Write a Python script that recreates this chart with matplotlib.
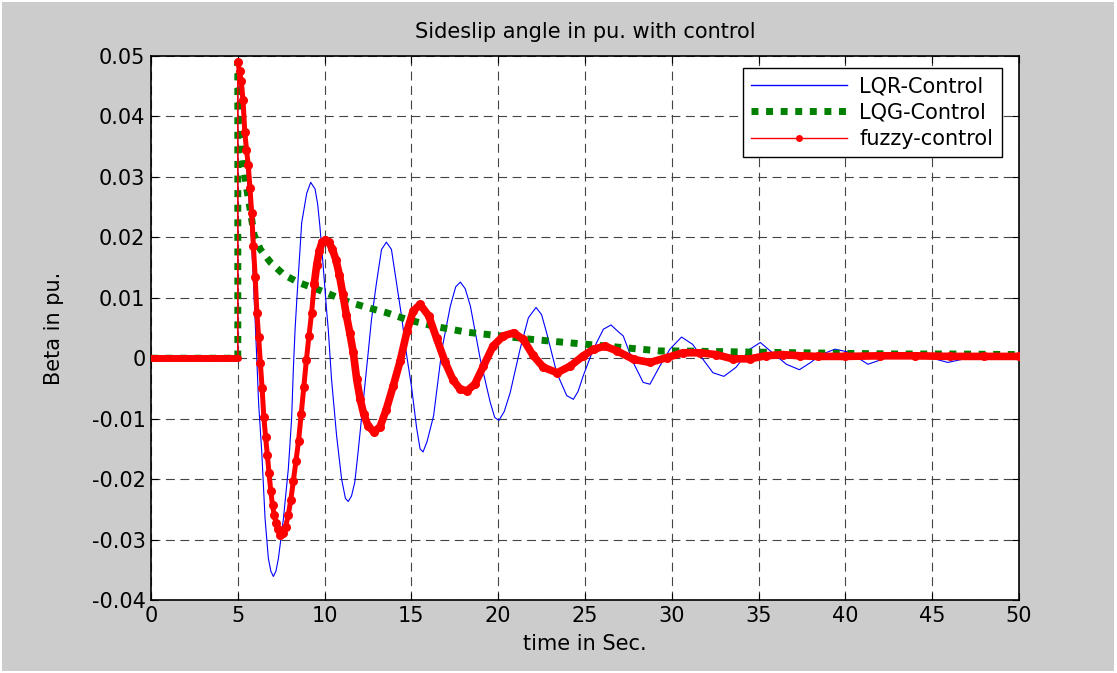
import matplotlib
matplotlib.use("Agg")
import matplotlib.pyplot as plt
from matplotlib.lines import Line2D
from matplotlib.patches import Rectangle

# ---------------- data ----------------
x_ticks = [0, 5, 10, 15, 20, 25, 30, 35, 40, 45, 50]
y_ticks = [0.05, 0.04, 0.03, 0.02, 0.01, 0.0, -0.01, -0.02, -0.03, -0.04]
y_tick_labels = ["0.05", "0.04", "0.03", "0.02", "0.01", "0", "-0.01", "-0.02", "-0.03", "-0.04"]

lqr_t = [0, 5.0, 5.0, 5.2, 5.4, 5.6, 5.8, 6.0, 6.1, 6.2, 6.38, 6.57, 6.76, 6.9, 7.05, 7.2, 7.34,
         7.63, 7.91, 8.1, 8.2, 8.3, 8.4, 8.68, 8.97, 9.2, 9.45, 9.6, 9.73, 9.92, 10.11, 10.21,
         10.4, 10.69, 10.98, 11.2, 11.36, 11.55, 11.74, 11.93, 12.22, 12.51, 12.7, 12.99, 13.28,
         13.56, 13.85, 14.14, 14.43, 14.7, 15.0, 15.3, 15.5, 15.67, 15.9, 16.28, 16.76, 17.24,
         17.55, 17.82, 18.1, 18.4, 18.97, 19.54, 19.8, 20.04, 20.35, 20.69, 21.26, 21.74, 22.18,
         22.5, 22.79, 23.37, 23.95, 24.33, 24.6, 24.9, 25.48, 26.06, 26.5, 26.99, 27.2, 27.78,
         28.35, 28.74, 29.31, 29.89, 30.56, 31.2, 31.8, 32.37, 33.0, 33.7, 34.5, 35.1, 35.8,
         36.6, 37.35, 38.0, 38.6, 39.4, 40.2, 41.3, 42.2, 43.5, 44.1, 45.0, 45.9, 46.7, 47.6,
         48.5, 50.0]
lqr_v = [0, 0, 0.048, 0.043, 0.036, 0.028, 0.019, 0.0062, -0.0005, -0.0075, -0.0155, -0.0265,
         -0.0331, -0.0352, -0.0361, -0.0352, -0.0331, -0.0265, -0.0183, -0.0100, -0.0018, 0.0048,
         0.0097, 0.0224, 0.0273, 0.0291, 0.0280, 0.0255, 0.0218, 0.0152, 0.0081, 0.0048, -0.0035,
         -0.0128, -0.0200, -0.0232, -0.0237, -0.0228, -0.0205, -0.0155, -0.0073, 0.0009, 0.0064,
         0.0125, 0.0180, 0.0192, 0.0180, 0.0125, 0.0070, 0.0010, -0.0046, -0.0115, -0.0150,
         -0.0155, -0.0138, -0.0095, 0.0015, 0.0086, 0.0118, 0.0126, 0.0115, 0.0086, -0.0002,
         -0.0073, -0.0098, -0.0103, -0.0088, -0.0057, 0.0015, 0.0067, 0.0084, 0.0072, 0.0042,
         -0.0024, -0.0062, -0.0068, -0.0055, -0.0029, 0.0015, 0.0048, 0.0055, 0.0042, 0.0037,
         -0.0007, -0.0040, -0.0043, -0.0013, 0.0015, 0.0035, 0.0023, -0.0002, -0.0024, -0.0030,
         -0.0015, 0.0015, 0.0026, 0.0009, -0.0010, -0.0019, -0.0007, 0.0006, 0.0015, 0.0010,
         -0.0010, -0.0001, 0.0009, 0.0009, 0.0000, -0.0007, -0.0002, 0.0004, 0.0005, 0.0003]

lqg_t = [0, 5.0, 5.0, 5.05, 5.15, 5.3, 5.46, 5.65, 5.94, 6.3, 6.9, 7.66, 8.52, 9.58, 10.53, 11.49,
         12.45, 13.6, 14.75, 16.3, 18.2, 20.1, 22.0, 23.9, 25.9, 27.0, 28.2, 29.3, 30.5, 32.6,
         34.9, 37.4, 40.0, 43.0, 46.0, 50.0]
lqg_v = [0, 0, 0.049, 0.047, 0.040, 0.033, 0.029, 0.0257, 0.0204, 0.0180, 0.0158, 0.0138, 0.0125,
         0.0114, 0.0103, 0.0092, 0.0084, 0.0075, 0.0064, 0.0053, 0.0043, 0.0037, 0.0031, 0.0026,
         0.0021, 0.0018, 0.0015, 0.0012, 0.0012, 0.0011, 0.0010, 0.0009, 0.0008, 0.0007, 0.0007,
         0.0006]

fuzzy_t = [0, 0.5, 1.0, 1.5, 2.0, 2.5, 3.0, 3.5, 4.0, 4.5, 5.0,
           5.0, 5.1, 5.2, 5.3, 5.4, 5.5, 5.6, 5.7, 5.8, 5.9, 6.0, 6.1, 6.2, 6.3, 6.4, 6.5, 6.6,
           6.7, 6.8, 6.9, 7.0, 7.1, 7.2, 7.3, 7.45, 7.6, 7.75, 7.9, 8.05, 8.2, 8.35, 8.5, 8.65,
           8.8, 8.95, 9.1, 9.25, 9.4, 9.55, 9.7, 9.85, 10.05, 10.25, 10.45, 10.65, 10.85, 11.05,
           11.25, 11.45, 11.65, 11.85, 12.05, 12.25, 12.5, 12.85, 13.2, 13.55, 13.95, 14.35,
           14.75, 15.1, 15.5, 16.0, 16.45, 16.95, 17.4, 17.8, 18.2, 18.65, 19.15, 19.7, 20.3,
           20.9, 21.45, 22.0, 22.6, 23.4, 24.15, 24.9, 25.5, 26.15, 26.85, 27.8, 28.75, 29.7,
           30.65, 31.6, 32.55, 33.5, 34.5, 35.4, 36.4, 37.4, 38.4, 40.0, 42.0, 44.0, 46.0, 48.0,
           50.0]
fuzzy_v = [0, 0, 0, 0, 0, 0, 0, 0, 0, 0, 0,
           0.0490, 0.0475, 0.0458, 0.0428, 0.0375, 0.0345, 0.0320, 0.0282, 0.0240, 0.0185,
           0.0135, 0.0075, 0.0035, -0.0008, -0.0050, -0.0097, -0.0130, -0.0160, -0.0190,
           -0.0220, -0.0243, -0.0260, -0.0272, -0.0283, -0.0293, -0.0289, -0.0280, -0.0260,
           -0.0235, -0.0203, -0.0170, -0.0137, -0.0093, -0.0048, -0.0003, 0.0037, 0.0075,
           0.0122, 0.0155, 0.0178, 0.0192, 0.0196, 0.0192, 0.0180, 0.0163, 0.0138, 0.0106,
           0.0072, 0.0042, 0.0010, -0.0035, -0.0068, -0.0092, -0.0112, -0.0122, -0.0113,
           -0.0085, -0.0046, -0.0005, 0.0045, 0.0078, 0.0089, 0.0070, 0.0033, -0.0007, -0.0036,
           -0.0051, -0.0054, -0.0043, -0.0013, 0.0020, 0.0037, 0.0042, 0.0031, 0.0005, -0.0015,
           -0.0024, -0.0013, 0.0004, 0.0015, 0.0020, 0.0012, -0.0002, -0.0007, 0.0001, 0.0009,
           0.0009, 0.0006, -0.0001, -0.0001, 0.0004, 0.0006, 0.0004, 0.0003, 0.0003, 0.0004,
           0.0004, 0.0003, 0.0003, 0.0003]

series_labels = ["LQR-Control", "LQG-Control", "fuzzy-control"]

# ---------------- figure ----------------
FS = 15
plt.rcParams['font.family'] = ['DejaVu Sans']
fig = plt.figure(figsize=(11.17, 6.73), dpi=100, facecolor="white")
fig.patches.append(Rectangle((2 / 1117, 2 / 673), 1112 / 1117, 669 / 673,
                             transform=fig.transFigure, facecolor="#cccccc",
                             edgecolor="none", zorder=-10))

ax = fig.add_axes([151 / 1117, 1 - 600 / 673, 868 / 1117, 544 / 673])
ax.set_facecolor("white")

ax.plot(lqr_t, lqr_v, color="#0000ff", lw=0.8, zorder=3)
ax.plot(lqg_t, lqg_v, color="#008000", lw=5.0, linestyle=(0, (1.0, 1.1)),
        solid_capstyle="butt", dash_capstyle="butt", zorder=4)

# fuzzy: thin line everywhere (incl. the vertical step) ...
ax.plot(fuzzy_t, fuzzy_v, color="#ff0000", lw=1.2, zorder=5)
# ... plus the densely sampled dots, which merge into a thick beaded band
flat_n = sum(1 for t, v in zip(fuzzy_t, fuzzy_v) if t <= 5.0 and v == 0)
ax.plot(fuzzy_t[:flat_n], fuzzy_v[:flat_n], color="#ff0000", lw=5.0,
        solid_capstyle="round", zorder=5)
early = [i for i in range(flat_n, len(fuzzy_t)) if fuzzy_t[i] < 9.6]
late = [i for i in range(flat_n, len(fuzzy_t)) if fuzzy_t[i] >= 9.4]
ax.plot([fuzzy_t[i] for i in early], [fuzzy_v[i] for i in early], color="#ff0000",
        lw=3.6, marker="o", markersize=6.5, markeredgewidth=0,
        solid_capstyle="round", solid_joinstyle="round", zorder=5)
ax.plot([fuzzy_t[i] for i in late], [fuzzy_v[i] for i in late], color="#ff0000",
        lw=5.5, marker="o", markersize=6.5, markeredgewidth=0,
        solid_capstyle="round", solid_joinstyle="round", zorder=5)

ax.set_xlim(0, 50)
ax.set_ylim(-0.04, 0.05)
ax.set_xticks(x_ticks)
ax.set_xticklabels([str(v) for v in x_ticks])
ax.set_yticks(y_ticks)
ax.set_yticklabels(y_tick_labels)
ax.tick_params(direction="in", length=5, width=0.8, top=True, right=True,
               labelsize=FS, pad=4, colors="black")
ax.grid(True, color="#444444", linestyle=(0, (8, 5)), linewidth=0.8)
for s in ax.spines.values():
    s.set_linewidth(1.2)
    s.set_color("black")

ax.set_title("Sideslip angle in pu. with control", fontsize=FS, pad=13)
ax.set_xlabel("time in Sec.", fontsize=FS, labelpad=6)
ax.set_ylabel("Beta in pu.", fontsize=FS, labelpad=20)

handles = [
    Line2D([], [], color="#0000ff", lw=1.0),
    Line2D([], [], color="#008000", lw=5.0, linestyle=(0, (1.0, 1.1)), dash_capstyle="butt"),
    Line2D([], [], color="#ff0000", lw=1.0, marker="o", markersize=5, markeredgewidth=0),
]
leg = ax.legend(handles, series_labels, loc="upper right", bbox_to_anchor=(0.980, 0.978),
                borderaxespad=0, fontsize=FS, handlelength=4.6, handletextpad=0.6,
                labelspacing=0.3, fancybox=False, framealpha=1, edgecolor="black",
                borderpad=0.4)
leg.get_frame().set_linewidth(1.0)

fig.savefig("out.png", dpi=100, facecolor="white")
